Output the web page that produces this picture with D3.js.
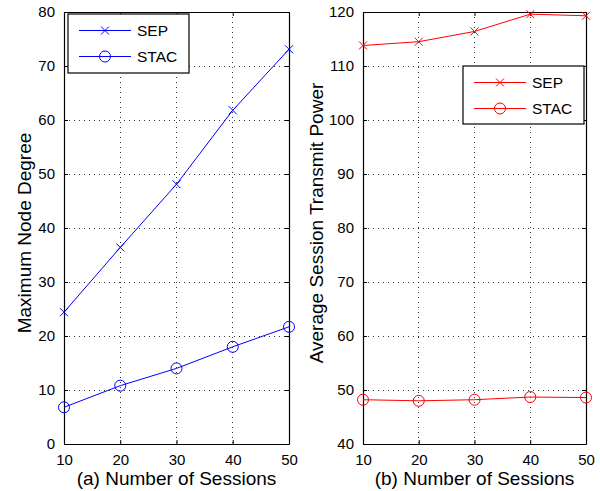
<!DOCTYPE html>
<html><head><meta charset="utf-8">
<script src="https://cdn.jsdelivr.net/npm/d3@7"></script>
<style>
body{margin:0;background:#fff;}
svg{display:block;font-family:"Liberation Sans",Arial,Helvetica,sans-serif;}
</style></head>
<body><svg id="c" width="600" height="491"></svg>
<script>
const sessions = [10, 20, 30, 40, 50];
const degreeSEP = [24.4, 36.4, 48.1, 61.8, 73.1];
const degreeSTAC = [6.8, 10.8, 14.0, 18.0, 21.7];
const powerSEP = [113.8, 114.5, 116.4, 119.6, 119.3];
const powerSTAC = [48.2, 48.0, 48.2, 48.7, 48.6];
const xTicks = [10, 20, 30, 40, 50];
const yTicksA = [0, 10, 20, 30, 40, 50, 60, 70, 80];
const yTicksB = [40, 50, 60, 70, 80, 90, 100, 110, 120];
const seriesNames = ["SEP", "STAC"];

const svg = d3.select("#c");

function panel(opts){
  const {x0,x1,y0,y1,yDomain,yTicks,color,s1,s2,xlabel,ylabel,ylabelX,ylabelY,legend} = opts;
  const x = d3.scaleLinear().domain([10,50]).range([x0,x1]);
  const y = d3.scaleLinear().domain(yDomain).range([y1,y0]);
  const g = svg.append("g");
  // grid
  g.append("g").selectAll("line").data(xTicks.slice(1,-1)).join("line")
    .attr("x1",d=>x(d)).attr("x2",d=>x(d)).attr("y1",y0).attr("y2",y1)
    .attr("stroke","#333").attr("stroke-width",1).attr("stroke-dasharray","1,4").attr("shape-rendering","crispEdges");
  g.append("g").selectAll("line").data(yTicks.slice(1,-1)).join("line")
    .attr("x1",x0).attr("x2",x1).attr("y1",d=>y(d)).attr("y2",d=>y(d))
    .attr("stroke","#333").attr("stroke-width",1).attr("stroke-dasharray","1,4").attr("shape-rendering","crispEdges");
  // axes
  const ax = g.append("g").attr("transform",`translate(0,${y1})`)
    .call(d3.axisBottom(x).tickValues(xTicks).tickSize(-4).tickPadding(10).tickSizeOuter(0));
  const axTop = g.append("g").attr("transform",`translate(0,${y0})`)
    .call(d3.axisTop(x).tickValues(xTicks).tickSize(-4).tickFormat("").tickSizeOuter(0));
  const ay = g.append("g").attr("transform",`translate(${x0},0)`)
    .call(d3.axisLeft(y).tickValues(yTicks).tickSize(-4).tickPadding(9).tickSizeOuter(0));
  const ayR = g.append("g").attr("transform",`translate(${x1},0)`)
    .call(d3.axisRight(y).tickValues(yTicks).tickSize(-4).tickFormat("").tickSizeOuter(0));
  [ax,axTop,ay,ayR].forEach(a=>{
    a.selectAll("path").attr("stroke","#000").attr("stroke-width",1.2);
    a.selectAll("line").attr("stroke","#000");
    a.selectAll("text").attr("font-size",15).attr("fill","#000").attr("font-family",'"Liberation Sans",Arial,sans-serif');
  });
  // lines
  const line = d3.line().x((d,i)=>x(sessions[i])).y(d=>y(d));
  [s1,s2].forEach(s=>{
    g.append("path").datum(s).attr("d",line).attr("fill","none").attr("stroke",color).attr("stroke-width",1);
  });
  // markers
  function cross(sel,cx,cy){
    const r=4;
    sel.append("path").attr("d",`M${cx-r},${cy-r}L${cx+r},${cy+r}M${cx-r},${cy+r}L${cx+r},${cy-r}`)
      .attr("stroke",color).attr("stroke-width",1).attr("fill","none");
  }
  function circ(sel,cx,cy){
    sel.append("circle").attr("cx",cx).attr("cy",cy).attr("r",5.5).attr("fill","none").attr("stroke",color).attr("stroke-width",1);
  }
  s1.forEach((d,i)=>cross(g,x(sessions[i]),y(d)));
  s2.forEach((d,i)=>circ(g,x(sessions[i]),y(d)));
  // labels
  g.append("text").attr("x",(x0+x1)/2).attr("y",485).attr("text-anchor","middle").attr("font-size",19).text(xlabel);
  g.append("text").attr("transform",`translate(${ylabelX},${ylabelY}) rotate(-90)`).attr("text-anchor","middle").attr("font-size",19).text(ylabel);
  // legend
  const L = legend;
  g.append("rect").attr("x",L.x).attr("y",L.y).attr("width",L.w).attr("height",L.h).attr("fill","#fff").attr("stroke","#000").attr("stroke-width",1.2);
  seriesNames.forEach((n,i)=>{
    const ly = L.y + 16.5 + i*26;
    g.append("line").attr("x1",L.x+11).attr("x2",L.x+63).attr("y1",ly).attr("y2",ly).attr("stroke",color).attr("stroke-width",1);
    if(i===0) cross(g,L.x+37,ly); else circ(g,L.x+37,ly);
    g.append("text").attr("x",L.x+69).attr("y",ly+5.5).attr("font-size",15.5).text(n);
  });
}

panel({x0:64,x1:289,y0:12,y1:444,yDomain:[0,80],yTicks:yTicksA,color:"#0000ff",
  s1:degreeSEP,s2:degreeSTAC,xlabel:"(a) Number of Sessions",ylabel:"Maximum Node Degree",ylabelX:30.5,ylabelY:233,
  legend:{x:68,y:14,w:121,h:59}});
panel({x0:363,x1:586,y0:12,y1:444,yDomain:[40,120],yTicks:yTicksB,color:"#ff0000",
  s1:powerSEP,s2:powerSTAC,xlabel:"(b) Number of Sessions",ylabel:"Average Session Transmit Power",ylabelX:322.5,ylabelY:223,
  legend:{x:463,y:66,w:121,h:58}});
</script></body></html>
